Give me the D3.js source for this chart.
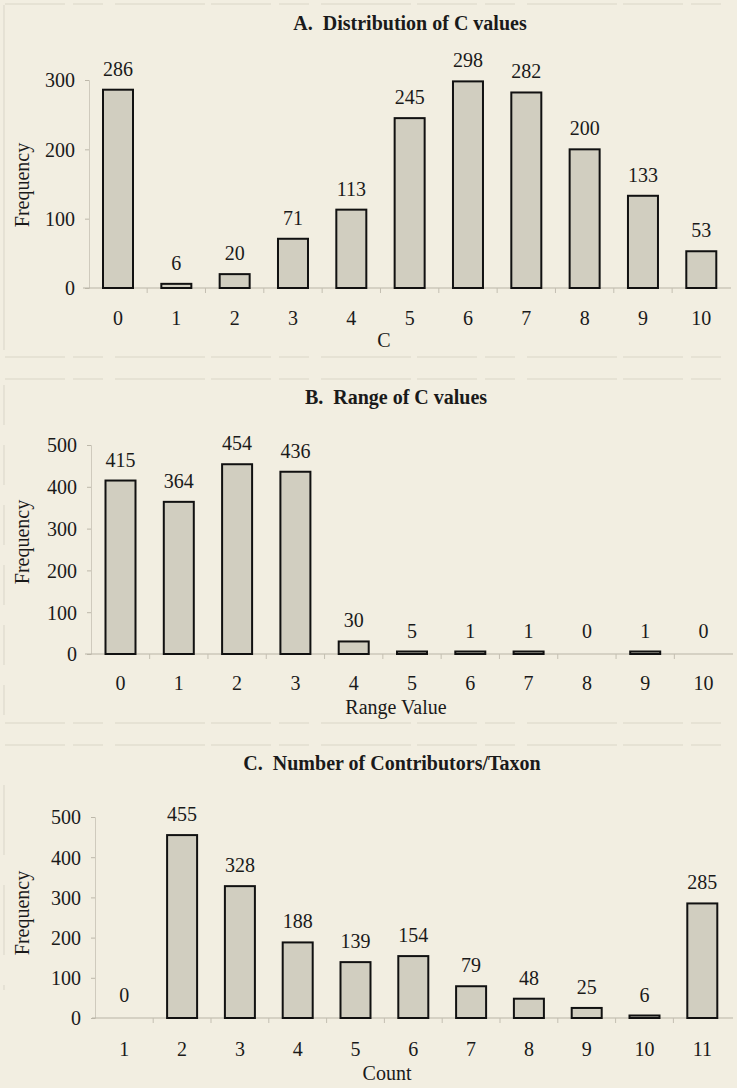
<!DOCTYPE html>
<html><head><meta charset="utf-8">
<script src="https://cdn.jsdelivr.net/npm/d3@7"></script>
<style>
html,body{margin:0;padding:0;background:#f2eee1;}
svg{display:block;}
text{font-family:"Liberation Serif","Times New Roman",serif;fill:#1a1a1a;}
.ttl{white-space:pre;}
</style></head>
<body>
<script>
// ---- Data ----
const titles = ["A.  Distribution of C values", "B.  Range of C values", "C.  Number of Contributors/Taxon"];
const xLabels = ["C", "Range Value", "Count"];
const yLabel = "Frequency";

const catsA = ["0","1","2","3","4","5","6","7","8","9","10"];
const valsA = [286, 6, 20, 71, 113, 245, 298, 282, 200, 133, 53];
const ticksA = [0, 100, 200, 300];

const catsB = ["0","1","2","3","4","5","6","7","8","9","10"];
const valsB = [415, 364, 454, 436, 30, 5, 1, 1, 0, 1, 0];
const ticksB = [0, 100, 200, 300, 400, 500];

const catsC = ["1","2","3","4","5","6","7","8","9","10","11"];
const valsC = [0, 455, 328, 188, 139, 154, 79, 48, 25, 6, 285];
const ticksC = [0, 100, 200, 300, 400, 500];

// ---- Layout ----
const W = 737, H = 1088;
const FS = 20;
const panels = [
  {cats: catsA, vals: valsA, ticks: ticksA, title: titles[0], xl: xLabels[0], ymax: 300,
   y0: 288, y1: 80, x0: 118, x1: 701.3, yAxisX: 89, axisL: 83, axisR: 731, tickRight: 75,
   titleX: 410, titleY: 30, xlX: 384, xlY: 347, tickLabY: 325, ylY: 185},
  {cats: catsB, vals: valsB, ticks: ticksB, title: titles[1], xl: xLabels[1], ymax: 500,
   y0: 654, y1: 445, x0: 120.5, x1: 703.5, yAxisX: 91, axisL: 85, axisR: 733, tickRight: 77,
   titleX: 396, titleY: 404, xlX: 396, xlY: 714, tickLabY: 690, ylY: 542},
  {cats: catsC, vals: valsC, ticks: ticksC, title: titles[2], xl: xLabels[2], ymax: 500,
   y0: 1018, y1: 817, x0: 124.3, x1: 702.3, yAxisX: 95, axisL: 92, axisR: 733, tickRight: 81,
   titleX: 392, titleY: 770, xlX: 387, xlY: 1080, tickLabY: 1056, ylY: 913}
];
const barW = 30;

const svg = d3.select("body").append("svg").attr("width", W).attr("height", H);
svg.append("rect").attr("width", W).attr("height", H).attr("fill", "#f2eee1");

// faint scan frame lines
const frameCol = "#d9d5c8";
[[5, 4, 732, 4], [5, 357, 732, 357], [5, 379, 732, 379], [5, 723, 732, 723], [5, 745, 732, 745]].forEach(l => {
  svg.append("line").attr("x1", l[0]).attr("y1", l[1]).attr("x2", l[2]).attr("y2", l[3])
    .attr("stroke", frameCol).attr("stroke-width", 1.2).attr("stroke-dasharray", "60,8,30,12,90,6");
});
svg.append("line").attr("x1", 4).attr("y1", 5).attr("x2", 4).attr("y2", 350)
  .attr("stroke", frameCol).attr("stroke-width", 1);
svg.append("line").attr("x1", 4).attr("y1", 385).attr("x2", 4).attr("y2", 715)
  .attr("stroke", frameCol).attr("stroke-width", 1).attr("stroke-dasharray", "40,20");
svg.append("line").attr("x1", 4).attr("y1", 785).attr("x2", 4).attr("y2", 990)
  .attr("stroke", frameCol).attr("stroke-width", 1).attr("stroke-dasharray", "70,30");

panels.forEach(p => {
  const g = svg.append("g");
  const x = d3.scalePoint().domain(p.cats).range([p.x0, p.x1]);
  const y = d3.scaleLinear().domain([0, p.ymax]).range([p.y0, p.y1]);
  const step = x.step();

  // title
  g.append("text").attr("class", "ttl").attr("x", p.titleX).attr("y", p.titleY).attr("text-anchor", "middle")
    .attr("font-size", FS).attr("font-weight", "bold").text(p.title);

  // y axis (faint)
  const yAxis = d3.axisLeft(y).tickValues(p.ticks).tickSize(4).tickPadding(10).tickFormat(d3.format("d"));
  const ya = g.append("g").attr("transform", `translate(${p.yAxisX},0)`).call(yAxis)
    .attr("font-family", null).attr("font-size", null);
  ya.select(".domain").attr("stroke", "#cfcabd").attr("stroke-width", 1);
  ya.selectAll(".tick line").attr("stroke", "#bdb8aa");
  ya.selectAll(".tick text").attr("font-size", FS).attr("fill", "#1a1a1a")
    .attr("x", p.tickRight - p.yAxisX).attr("dy", "0.34em");

  // x axis line
  g.append("line").attr("x1", p.axisL).attr("x2", p.axisR).attr("y1", p.y0).attr("y2", p.y0)
    .attr("stroke", "#b9b4a6").attr("stroke-width", 1);
  // tick marks between categories
  g.selectAll(".xt").data(p.cats.slice(1)).join("line")
    .attr("x1", d => x(d) - step / 2).attr("x2", d => x(d) - step / 2)
    .attr("y1", p.y0).attr("y2", p.y0 + 5).attr("stroke", "#c4bfb2");

  // x tick labels
  g.selectAll(".xl").data(p.cats).join("text")
    .attr("x", d => x(d)).attr("y", p.tickLabY).attr("text-anchor", "middle")
    .attr("font-size", FS).text(d => d);

  // bars
  g.selectAll(".bar").data(p.cats.map((c, i) => ({c, v: p.vals[i]})).filter(d => d.v > 0)).join("rect")
    .attr("x", d => x(d.c) - barW / 2).attr("width", barW)
    .attr("y", d => Math.min(y(d.v), p.y0 - 2.5)).attr("height", d => p.y0 - Math.min(y(d.v), p.y0 - 2.5))
    .attr("fill", "#d1cec0").attr("stroke", "#111").attr("stroke-width", 2);

  // value labels
  g.selectAll(".vl").data(p.cats.map((c, i) => ({c, v: p.vals[i]}))).join("text")
    .attr("x", d => x(d.c)).attr("y", d => Math.min(y(d.v), p.y0 - 2) - 14)
    .attr("text-anchor", "middle").attr("font-size", FS).text(d => d.v);

  // axis titles
  g.append("text").attr("x", p.xlX).attr("y", p.xlY).attr("text-anchor", "middle")
    .attr("font-size", FS).text(p.xl);
  g.append("text").attr("transform", `translate(29,${p.ylY}) rotate(-90)`).attr("text-anchor", "middle")
    .attr("font-size", FS).text(yLabel);
});
</script>
</body></html>
